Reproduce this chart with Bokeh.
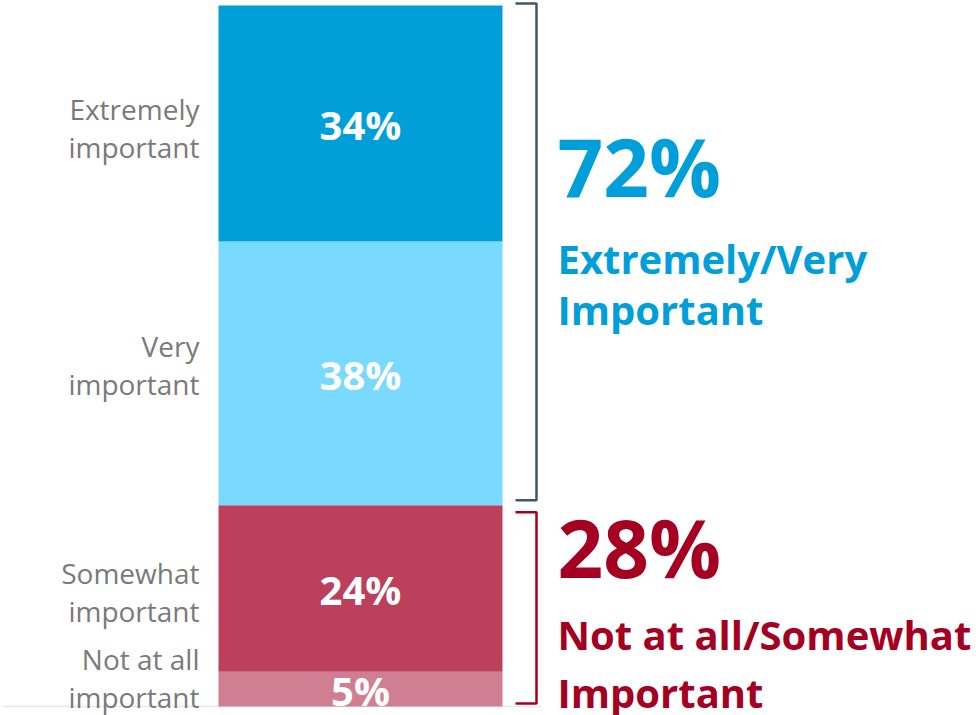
from bokeh.plotting import figure
from bokeh.models import Range1d, ColumnDataSource
from bokeh.core.properties import value
from bokeh.embed import file_html
from bokeh.resources import INLINE

# ---- data ----
categories = ["Not at all\nimportant", "Somewhat\nimportant", "Very\nimportant", "Extremely\nimportant"]
values = [5, 24, 38, 34]
value_labels = ["5%", "24%", "38%", "34%"]
bar_colors = ["#D07F92", "#BC405B", "#7AD9FF", "#009FDA"]

group_totals = ["72%", "28%"]
group_names = [["Extremely/Very", "Important"], ["Not at all/Somewhat", "Important"]]
group_members = [[2, 3], [0, 1]]          # indices into categories
group_colors = ["#009FDA", "#A50021"]
bracket_colors = ["#44546A", "#A50021"]

# ---- derived stacking ----
bottoms, tops = [], []
acc = 0
for v in values:
    bottoms.append(acc)
    acc += v
    tops.append(acc)
centers = [(b + t) / 2 for b, t in zip(bottoms, tops)]
total = acc

W, H = 976, 715
k = 701 / 101            # pixels per percentage point
bar_px = 284
x_start = -0.5 - 218 / bar_px
y_end = total + 5 / k

p = figure(width=W, height=H, output_backend="svg", toolbar_location=None,
           x_range=Range1d(x_start, x_start + W / bar_px),
           y_range=Range1d(y_end - H / k, y_end),
           min_border=0, outline_line_color=None, background_fill_color="white",
           border_fill_color="white")
p.axis.visible = False
p.grid.visible = False

# faint baseline
p.segment(x0=[x_start + 3 / bar_px], y0=[0], x1=[0.5 + 38 / bar_px], y1=[0],
          line_color="#E8E8E8", line_width=1.5)

src = ColumnDataSource(dict(x=[0] * len(values), bottom=bottoms, top=tops, color=bar_colors,
                            center=centers, vlabel=value_labels, cat=categories))
p.vbar(x="x", width=1, bottom="bottom", top="top", fill_color="color", line_color=None, source=src)

# value labels inside segments
p.text(x="x", y="center", text="vlabel", source=src, text_color="white",
       text_font=value("Open Sans"), text_font_style="bold", text_font_size="40px",
       text_align="center", text_baseline="middle", y_offset=1)

# category labels on the left
cat_offsets = [-11, 3, -8, 5]
lsrc = ColumnDataSource(dict(x=[-0.5 - 19 / bar_px] * len(values), y=centers, t=categories, off=cat_offsets))
p.text(x="x", y="y", text="t", source=lsrc, text_color="#7A7A7A",
       text_font=value("Open Sans"), text_font_size="28px", text_align="right",
       text_baseline="middle", text_line_height=1.0, y_offset="off")

# brackets + group annotations
bx0 = 0.5 + 13 / bar_px
bx1 = 0.5 + 34 / bar_px
pads_px = [(-2, 5), (7, 3)]
big_off = [160, 41]
line_offs = [[253, 304], [129, 187]]
for g in range(2):
    gtop = max(tops[i] for i in group_members[g])
    gbot = min(bottoms[i] for i in group_members[g])
    yt = gtop - pads_px[g][0] / k
    yb = gbot + pads_px[g][1] / k
    p.line(x=[bx0, bx1, bx1, bx0], y=[yt, yt, yb, yb], line_color=bracket_colors[g], line_width=2.5)
    p.text(x=[bx1], y=[gtop], text=[group_totals[g]], text_color=group_colors[g],
           text_font=value("Open Sans"), text_font_style="bold", text_font_size="80px",
           text_align="left", text_baseline="middle", x_offset=21, y_offset=big_off[g])
    for name, off in zip(group_names[g], line_offs[g]):
        p.text(x=[bx1], y=[gtop], text=[name], text_color=group_colors[g],
               text_font=value("Open Sans"), text_font_style="bold", text_font_size="40px",
               text_align="left", text_baseline="middle", x_offset=21, y_offset=off)

open("out.html", "w").write(file_html(p, INLINE))
